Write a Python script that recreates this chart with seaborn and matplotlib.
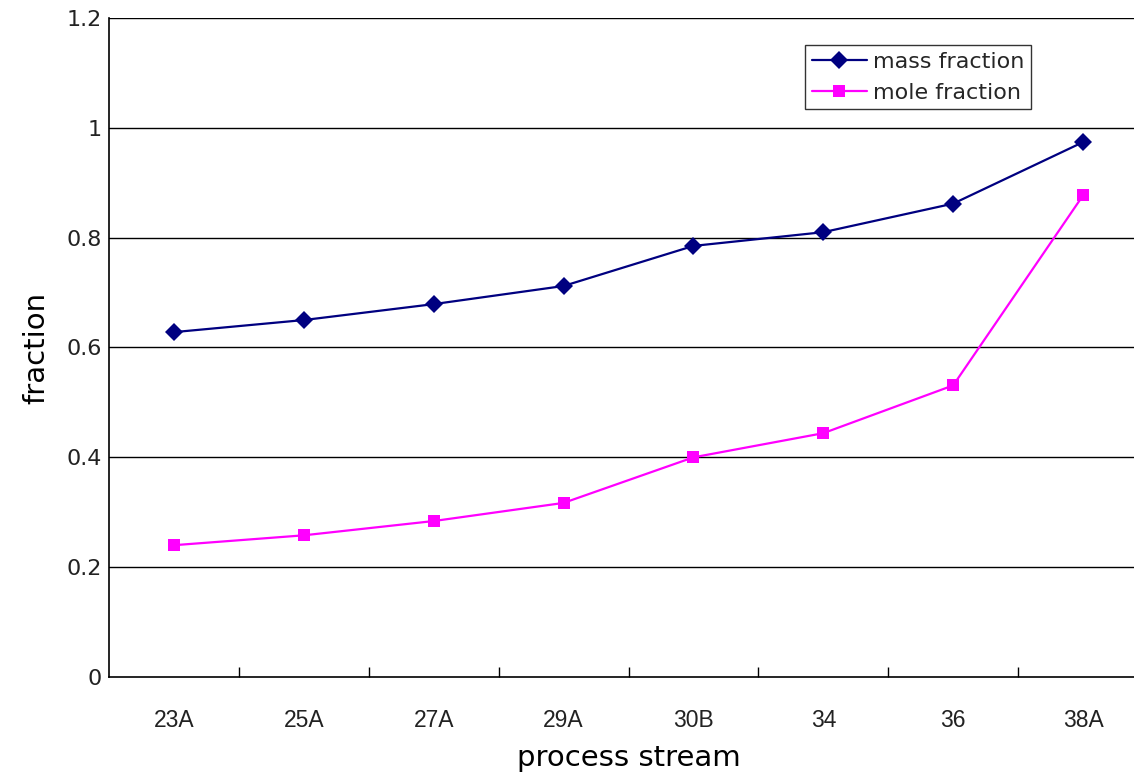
import matplotlib
matplotlib.use("Agg")
import matplotlib.pyplot as plt
import seaborn as sns
import pandas as pd
from matplotlib.ticker import FixedLocator

# Data
streams = ["23A", "25A", "27A", "29A", "30B", "34", "36", "38A"]
mass_fraction = [0.628, 0.650, 0.679, 0.712, 0.785, 0.810, 0.862, 0.974]
mole_fraction = [0.240, 0.258, 0.284, 0.317, 0.400, 0.444, 0.531, 0.877]
y_ticks = [0, 0.2, 0.4, 0.6, 0.8, 1.0, 1.2]
y_tick_labels = ["0", "0.2", "0.4", "0.6", "0.8", "1", "1.2"]

sns.set_theme(style="white")
plt.rcParams["font.family"] = ["DejaVu Sans"]

W, H = 1134, 772
fig = plt.figure(figsize=(W / 100, H / 100), dpi=100)
left, right, top, bottom = 109, 1148, 18, 677
ax = fig.add_axes([left / W, 1 - bottom / H, (right - left) / W, (bottom - top) / H])

df = pd.DataFrame({"stream": streams, "mass": mass_fraction, "mole": mole_fraction})

sns.lineplot(data=df, x="stream", y="mass", ax=ax, color="#000080", marker="D",
             markersize=9.5, markeredgewidth=0, linewidth=1.6, label="mass fraction",
             sort=False)
sns.lineplot(data=df, x="stream", y="mole", ax=ax, color="#FF00FF", marker="s",
             markersize=8.5, markeredgewidth=0, linewidth=1.6, label="mole fraction",
             sort=False)

ax.set_xlim(-0.5, len(streams) - 0.5)
ax.set_ylim(0, 1.2)
ax.set_yticks(y_ticks)
ax.set_yticklabels(y_tick_labels)

# horizontal grid
ax.grid(False)
for v in y_ticks[1:]:
    ax.axhline(v, color="black", linewidth=1.0, zorder=0.5)

for s in ["right", "top"]:
    ax.spines[s].set_visible(False)
for s in ["left", "bottom"]:
    ax.spines[s].set_color("black")
    ax.spines[s].set_linewidth(1.2)

ax.xaxis.set_minor_locator(FixedLocator([i + 0.5 for i in range(len(streams) - 1)]))
ax.tick_params(axis="x", which="major", length=0, pad=23, labelcolor="#222222")
ax.tick_params(axis="x", which="minor", direction="in", length=7, width=1, color="black", bottom=True)
ax.tick_params(axis="y", which="major", length=0, pad=5, labelsize=16, labelcolor="#222222")
for lbl in ax.get_xticklabels():
    lbl.set_fontfamily("Liberation Sans")
    lbl.set_fontsize(16.5)

ax.set_xlabel("process stream", fontsize=21, labelpad=9, color="black")
ax.set_ylabel("fraction", fontsize=21, labelpad=12, color="black")

leg = ax.legend(loc="upper left", bbox_to_anchor=(805 / W, 1 - 45 / H),
                bbox_transform=fig.transFigure, frameon=True, fancybox=False,
                fontsize=16, handlelength=2.5, borderpad=0.3, labelspacing=0.5,
                handletextpad=0.25, borderaxespad=0)
leg.get_frame().set_edgecolor("black")
leg.get_frame().set_linewidth(1.0)

fig.savefig("out.png", dpi=100)
